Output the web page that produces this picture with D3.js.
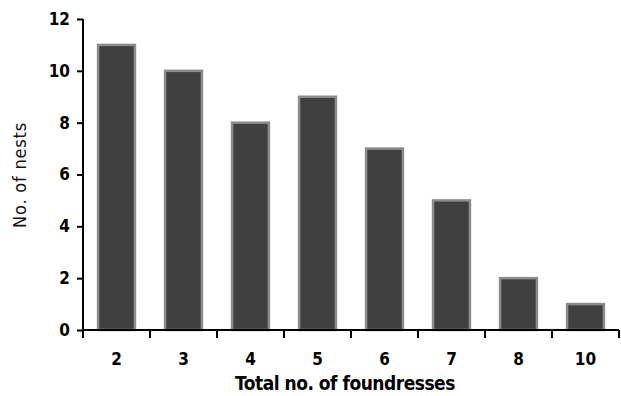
<!DOCTYPE html>
<html>
<head>
<meta charset="utf-8">
<script src="https://cdn.jsdelivr.net/npm/d3@7"></script>
<style>
  body { margin: 0; background: #fff; }
  text { font-family: "DejaVu Sans Condensed", "DejaVu Sans", sans-serif; }
</style>
</head>
<body>
<svg id="chart" width="621" height="396"></svg>
<script>
const categories = ["2", "3", "4", "5", "6", "7", "8", "10"];
const nests = [11, 10, 8, 9, 7, 5, 2, 1];
const yTicks = [0, 2, 4, 6, 8, 10, 12];

const svg = d3.select("#chart");
const margin = { left: 83, right: 2, top: 19, bottom: 66 };
const width = 621 - margin.left - margin.right;
const height = 396 - margin.top - margin.bottom;

const g = svg.append("g").attr("transform", `translate(${margin.left},${margin.top})`);

const x = d3.scaleBand().domain(categories).range([0, width]).paddingInner(0.45).paddingOuter(0.225);
const y = d3.scaleLinear().domain([0, 12]).range([height, 0]);

// bars
g.selectAll("rect.bar")
  .data(categories)
  .enter().append("rect")
  .attr("class", "bar")
  .attr("x", d => x(d))
  .attr("y", (d, i) => y(nests[i]))
  .attr("width", x.bandwidth())
  .attr("height", (d, i) => height - y(nests[i]))
  .attr("fill", "#404040")
  .attr("stroke", "#8c8c8c")
  .attr("stroke-width", 2.5);

// y axis
const yAxis = g.append("g")
  .call(d3.axisLeft(y).tickValues(yTicks).tickSize(6).tickPadding(7));
yAxis.select(".domain").attr("stroke", "#000").attr("stroke-width", 2).attr("d", `M0,${y(12)}V${height}`);
yAxis.selectAll(".tick line").attr("stroke", "#000").attr("stroke-width", 2);
yAxis.selectAll(".tick text")
  .attr("font-size", 17).attr("font-weight", "bold").attr("fill", "#000")
  .attr("font-family", "DejaVu Sans Condensed, DejaVu Sans, sans-serif");

// x axis with ticks at band boundaries
const xg = g.append("g").attr("transform", `translate(0,${height})`);
xg.append("line").attr("x1", 0).attr("x2", width).attr("stroke", "#000").attr("stroke-width", 2);
const step = x.step();
const bounds = d3.range(categories.length + 1).map(i => i * step);
xg.selectAll("line.tk").data(bounds).enter().append("line")
  .attr("class", "tk")
  .attr("x1", d => d).attr("x2", d => d)
  .attr("y1", 0).attr("y2", 8)
  .attr("stroke", "#000").attr("stroke-width", 2);
xg.selectAll("text.lbl").data(categories).enter().append("text")
  .attr("class", "lbl")
  .attr("x", d => x(d) + x.bandwidth() / 2)
  .attr("y", 35)
  .attr("text-anchor", "middle")
  .attr("font-size", 17).attr("font-weight", "bold")
  .text(d => d);

// axis titles
svg.append("text")
  .attr("x", 345).attr("y", 390)
  .attr("text-anchor", "middle")
  .attr("font-size", 19).attr("font-weight", "bold")
  .attr("letter-spacing", -0.5)
  .text("Total no. of foundresses");

svg.append("text")
  .attr("transform", "translate(26,175) rotate(-90)")
  .attr("text-anchor", "middle")
  .attr("font-size", 18)
  .attr("letter-spacing", 0.8)
  .attr("fill", "#111")
  .text("No. of nests");
</script>
</body>
</html>
